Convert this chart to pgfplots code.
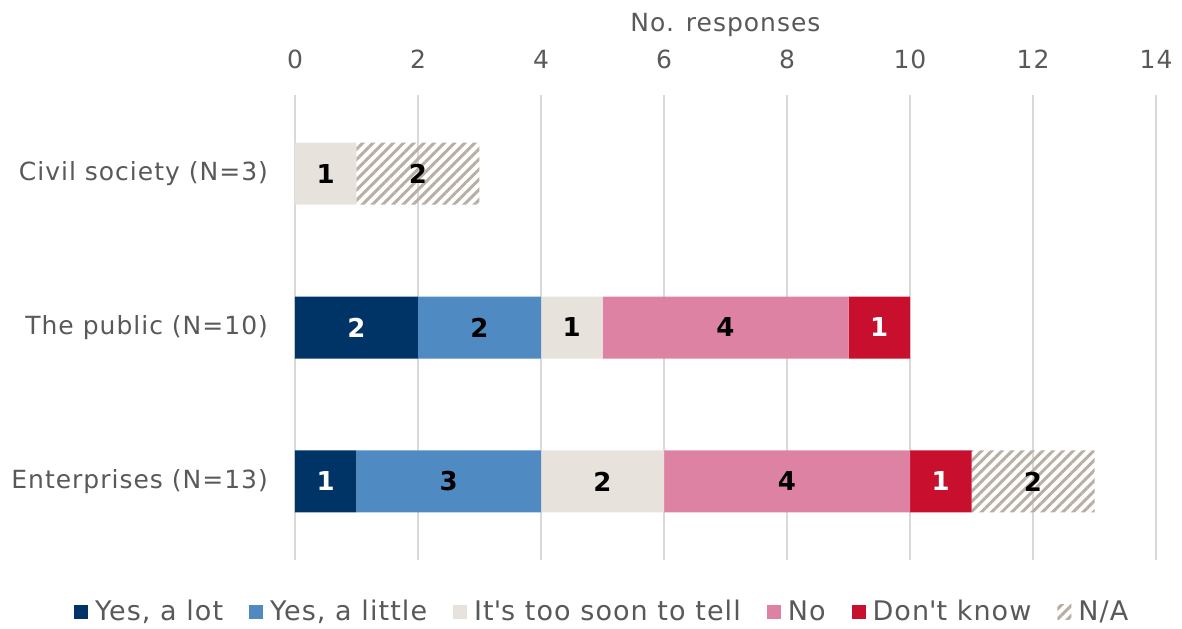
\documentclass[border=0pt]{standalone}
\usepackage{pgfplots}
\pgfplotsset{compat=1.18}
\usepackage{fontspec}
\setmainfont{DejaVu Sans}[LetterSpace=4]
\usetikzlibrary{patterns.meta}
\definecolor{txt}{HTML}{595959}
\definecolor{clot}{HTML}{003366}
\definecolor{clittle}{HTML}{4F8BC2}
\definecolor{csoon}{HTML}{E8E2DC}
\definecolor{cno}{HTML}{DE82A4}
\definecolor{cdk}{HTML}{C8102E}
\definecolor{chatch}{HTML}{B8AEA4}
\definecolor{gridc}{HTML}{D9D9D9}
\begin{document}
\begin{tikzpicture}[font=\fontsize{12.5}{15}\selectfont]
\path[use as bounding box] (-147.5pt,-34pt) rectangle (443.5pt,280pt);
\begin{axis}[
  at={(0pt,0pt)}, anchor=south west,
  scale only axis, width=430.5pt, height=232.5pt,
  xbar stacked, bar width=31pt,
  xmin=0, xmax=14, xtick={0,2,...,14},
  ymin=-0.51, ymax=2.51, y dir=reverse,
  ytick={0,1,2},
  yticklabels={Civil society (N=3),The public (N=10),Enterprises (N=13)},
  xticklabel pos=upper,
  xlabel={No. responses}, xlabel style={text=txt},
  xmajorgrids, major grid style={gridc, line width=0.8pt},
  axis line style={draw=none},
  major tick length=0pt,
  tick label style={text=txt},
  /pgf/number format/assume math mode=true,
  xticklabel style={yshift=9.5pt},
  yticklabel style={xshift=-10pt},
  xlabel style={yshift=0pt},
  point meta=explicit symbolic,
  nodes near coords,
  every node near coord/.append style={anchor=center, font=\fontsize{13}{15}\selectfont\bfseries},
  legend columns=-1,
  legend style={draw=none, at={(0.358,-0.112)}, anchor=center, text=txt,
    font=\fontsize{13.5}{16}\selectfont,
    /tikz/every even column/.append style={column sep=11pt}, inner sep=0pt,
    /tikz/every odd column/.append style={column sep=1.5pt}},
  legend image code/.code={\path[#1, draw=none] (0pt,-3.7pt) rectangle (7pt,3.7pt);},
  legend cell align=left,
]
\addplot[fill=clot, draw=none, every node near coord/.append style={text=white}]
  coordinates {(0,0) [] (2,1) [2] (1,2) [1]};
\addplot[fill=clittle, draw=none, every node near coord/.append style={text=black}]
  coordinates {(0,0) [] (2,1) [2] (3,2) [3]};
\addplot[fill=csoon, draw=none, every node near coord/.append style={text=black}]
  coordinates {(1,0) [1] (1,1) [1] (2,2) [2]};
\addplot[fill=cno, draw=none, every node near coord/.append style={text=black}]
  coordinates {(0,0) [] (4,1) [4] (4,2) [4]};
\addplot[fill=cdk, draw=none, every node near coord/.append style={text=white}]
  coordinates {(0,0) [] (1,1) [1] (1,2) [1]};
\addplot[draw=none, pattern={Lines[angle=45,distance=3.6pt,line width=1.5pt]}, pattern color=chatch,
  every node near coord/.append style={text=black}]
  coordinates {(2,0) [2] (0,1) [] (2,2) [2]};
\legend{{Yes, a lot},{Yes, a little},{It\textquotesingle s too soon to tell},{No},{Don\textquotesingle t know},{N/A}}
\end{axis}
\end{tikzpicture}
\end{document}
